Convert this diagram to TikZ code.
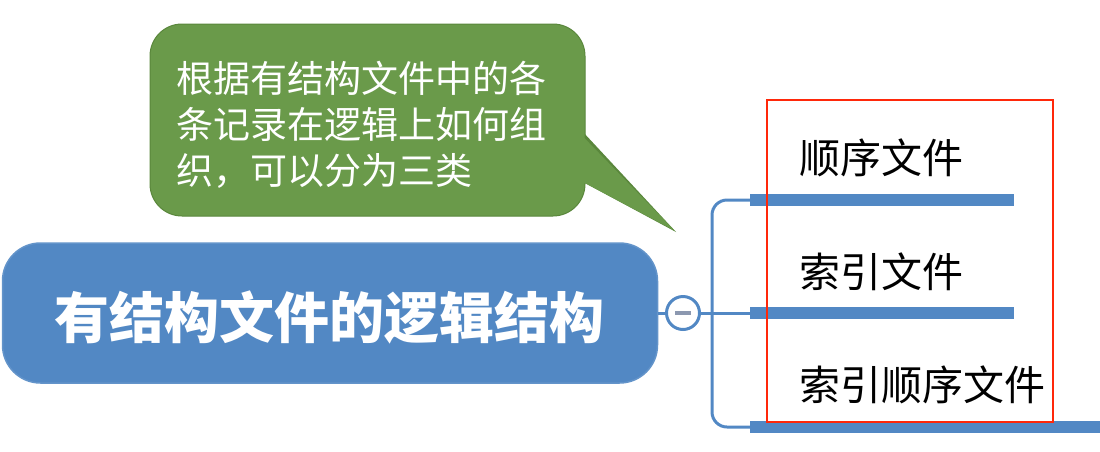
\documentclass[tikz,border=0pt]{standalone}
\usepackage{fontspec}
\newfontfamily\cjk{Noto Sans CJK SC}
\definecolor{mainblue}{RGB}{82,136,196}
\definecolor{calloutgreen}{RGB}{106,154,74}
\definecolor{calloutedge}{RGB}{90,135,60}
\definecolor{redbox}{RGB}{255,40,10}
\definecolor{minusgray}{RGB}{140,152,176}
\tikzset{
  rootbox/.style={draw=mainblue!90!white, line width=1.5pt, fill=mainblue, rounded corners=38pt, minimum width=655pt, minimum height=140pt, inner sep=0pt, text=white},
  roottext/.style={inner sep=0pt, text=white, font=\cjk\bfseries\fontsize{55}{58}\selectfont},
  toggle/.style={circle, draw=mainblue, line width=3pt, fill=white, minimum size=33pt, inner sep=0pt},
  thin/.style={draw=mainblue, line width=3pt},
  bar/.style={draw=mainblue, line width=12pt},
  leaf/.style={anchor=west, inner sep=0pt, text=black, font=\cjk\fontsize{41}{44}\selectfont},
  callout/.style={fill=calloutgreen, draw=calloutedge, line width=1pt, rounded corners=32pt},
  callouttext/.style={anchor=west, inner sep=0pt, align=left, text=white, font=\cjk\fontsize{37}{46}\selectfont},
}
\begin{document}
\begin{tikzpicture}[x=1pt,y=-1pt]
\useasboundingbox (0,0) rectangle (1100,451);
% callout
\coordinate (ca) at (583,132);
\coordinate (cb) at (583,182);
\coordinate (tip) at (676,232);
\fill[calloutedge] (ca) -- (tip) -- (cb) -- cycle;
\draw[callout] (150,24) rectangle (585,216);
\fill[calloutgreen] (580,133.5) -- (674.5,230.5) -- (580,180.5) -- cycle;
\node[callouttext] (note) at (176,125) {根据有结构文件中的各\\条记录在逻辑上如何组\\织，可以分为三类};
% root
\node[rootbox] (root) at (330,313) {};
\node[roottext] (rootlabel) at (329,317) {有结构文件的逻辑结构};
\node[toggle] (tog) at (683,313) {};
\draw[minusgray, line width=3.5pt] (675,313) -- (691,313);
\draw[thin] (root.east) -- (tog.west);
% leaves
\coordinate (b1) at (750,200);
\coordinate (b2) at (750,313);
\coordinate (b3) at (750,427);
\node[leaf] (l1) at (799,158) {顺序文件};
\node[leaf] (l2) at (799,272) {索引文件};
\node[leaf] (l3) at (799,385) {索引顺序文件};
\draw[thin, rounded corners=15pt] (b1) -- (712,200) -- (712,427) -- (b3);
\draw[thin] (tog.east) -- (b2);
\draw[bar] (b1) -- (1014,200);
\draw[bar] (b2) -- (1014,313);
\draw[bar] (b3) -- (1100,427);
% red highlight
\draw[redbox, line width=2.2pt] (767,100) rectangle (1053,422);
\end{tikzpicture}
\end{document}
